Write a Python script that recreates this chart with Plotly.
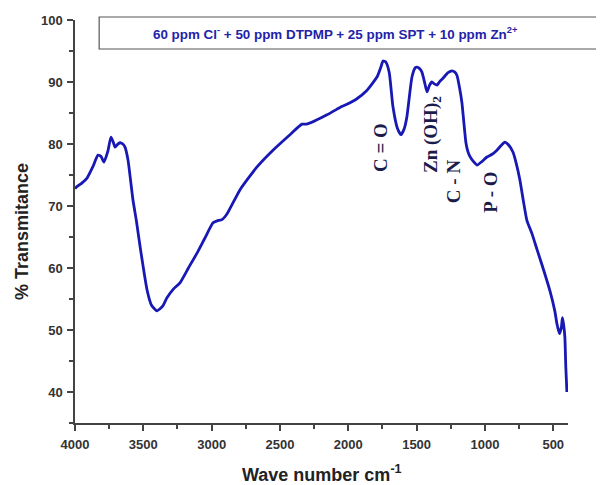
import plotly.graph_objects as go

# FTIR spectrum
wavenumber = [4000, 3993, 3950, 3912, 3870, 3832, 3810, 3788, 3760, 3737, 3720, 3707, 3690, 3671,
              3650, 3634, 3612, 3576, 3550, 3524, 3473, 3440, 3400, 3360, 3327, 3280, 3232, 3170,
              3107, 3050, 2990, 2960, 2924, 2888, 2793, 2668, 2551, 2427, 2339, 2303, 2156, 2061,
              2010, 1937, 1870, 1790, 1760, 1746, 1725, 1700, 1673, 1640, 1614, 1590, 1571, 1534,
              1510, 1497, 1480, 1461, 1440, 1424, 1405, 1388, 1370, 1351, 1330, 1307, 1270, 1241,
              1220, 1205, 1185, 1168, 1150, 1139, 1125, 1110, 1085, 1058, 1020, 985, 950, 912, 880,
              854, 825, 795, 770, 744, 720, 693, 655, 619, 575, 524, 488, 473, 455, 440, 433, 425,
              415, 408, 400]
transmittance = [72.8, 73.0, 73.7, 74.5, 76.3, 78.2, 78.0, 77.1, 78.8, 81.1, 80.3, 79.5, 79.9, 80.2,
                 80.0, 79.5, 77.4, 71.0, 67.5, 63.5, 56.5, 54.0, 53.1, 53.8, 55.2, 56.6, 57.6, 60.0,
                 62.4, 64.8, 67.3, 67.6, 67.8, 68.7, 72.6, 76.3, 79.0, 81.5, 83.2, 83.2, 84.7, 85.9,
                 86.4, 87.3, 88.5, 90.8, 92.5, 93.4, 93.2, 91.5, 86.0, 82.5, 81.5, 82.5, 84.4, 90.8,
                 92.3, 92.4, 92.2, 91.6, 89.8, 88.4, 89.5, 90.0, 89.7, 89.5, 90.1, 90.6, 91.5, 91.8,
                 91.6, 91.1, 89.0, 86.6, 82.5, 80.2, 78.8, 78.0, 77.2, 76.6, 77.2, 77.9, 78.3, 79.0, 79.8,
                 80.3, 79.8, 78.7, 76.8, 74.2, 71.0, 67.7, 65.5, 63.0, 60.0, 56.3, 53.0, 51.0, 49.4, 50.5, 52.0, 51.0,
                 48.9, 44.0, 40.0]

# band assignments
band_labels = ["C = O", "Zn (OH)<sub>2</sub>", "C - N", "P - O"]
band_x = [1768, 1388, 1234, 956]
band_y = [79.5, 81.6, 74.0, 72.3]

legend_text = "60 ppm Cl<sup>-</sup> + 50 ppm DTPMP + 25 ppm SPT + 10 ppm Zn<sup>2+</sup>"

sans = "Arial, Liberation Sans"

fig = go.Figure()
fig.add_trace(go.Scatter(x=wavenumber, y=transmittance, mode="lines",
                         line=dict(color="#1818b4", width=2.8, shape="spline", smoothing=0.5),
                         showlegend=False))

for lab, bx, by in zip(band_labels, band_x, band_y):
    fig.add_annotation(x=bx, y=by, text=lab, showarrow=False, textangle=-90,
                       font=dict(family="Liberation Serif, Times New Roman", size=19,
                                 color="#1c1c4c", weight="bold"))

# legend box
fig.add_shape(type="rect", xref="paper", yref="paper", x0=0.049, x1=1.1, y0=0.928, y1=1.0074,
              line=dict(color="#555555", width=1.2), fillcolor="white", layer="below")
fig.add_annotation(xref="paper", yref="paper", x=0.528, y=0.966, xanchor="center", yanchor="middle",
                   text=legend_text, showarrow=False,
                   font=dict(family=sans, size=13.4, color="#2323a8", weight="bold"))

# axis titles as annotations so their place is fixed
fig.add_annotation(xref="paper", yref="paper", x=-0.108, y=0.476, xanchor="center", yanchor="middle",
                   text="% Transmitance", textangle=-90, showarrow=False,
                   font=dict(family=sans, size=18, color="#222222", weight="bold"))
fig.add_annotation(xref="paper", yref="paper", x=0.5, y=-0.125, xanchor="center", yanchor="middle",
                   text="Wave number cm<sup>-1</sup>", showarrow=False,
                   font=dict(family=sans, size=18, color="#222222", weight="bold"))

axis_font = dict(family=sans, size=13, color="#333333", weight="bold")
fig.update_xaxes(range=[4000, 392], tickvals=[4000, 3500, 3000, 2500, 2000, 1500, 1000, 500],
                 ticks="outside", ticklen=6, tickwidth=1.5, tickcolor="#444444", ticklabelstandoff=3,
                 minor=dict(dtick=250, tick0=0, ticks="outside", ticklen=4, tickcolor="#444444"),
                 showline=True, linecolor="#444444", linewidth=1.5, showgrid=False, zeroline=False,
                 tickfont=axis_font, automargin=False)
fig.update_yaxes(range=[35, 100], tickvals=[40, 50, 60, 70, 80, 90, 100],
                 ticks="outside", ticklen=6, tickwidth=1.5, tickcolor="#444444", ticklabelstandoff=2,
                 minor=dict(dtick=5, tick0=0, ticks="outside", ticklen=4, tickcolor="#444444"),
                 showline=True, linecolor="#444444", linewidth=1.5, showgrid=False, zeroline=False,
                 tickfont=axis_font, automargin=False)

# page body keeps an 8 px margin, so the figure is 8 px smaller each way
fig.update_layout(width=596, height=477, margin=dict(l=67, r=36, t=12, b=62),
                  plot_bgcolor="white", paper_bgcolor="white")

fig.write_html("out.html")
